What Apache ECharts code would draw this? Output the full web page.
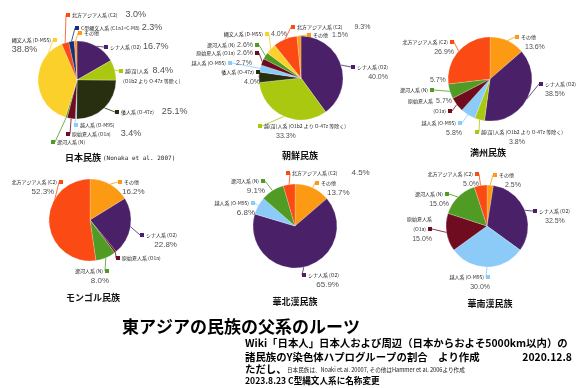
<!DOCTYPE html>
<html><head><meta charset="utf-8">
<script src="https://cdn.jsdelivr.net/npm/echarts@6/dist/echarts.min.js"></script>
<style>html,body{margin:0;padding:0;background:#fff}#c{width:586px;height:388px}</style>
</head><body><div id="c"></div>
<script>
// ---- haplogroup categories ----
const C2 = '北方アジア人系 (C2)';
const C1 = 'C型縄文人系 (C1a1=C-M8)';
const OT = 'その他';
const O2 = 'シナ人系 (O2)';
const YM = '越(苗)人系 (O1b2 より O-47z 等除く)';
const WA = '倭人系 (O-47z)';
const M95 = '越人系 (O-M95)';
const O1A = '原始夏人系 (O1a)';
const NN = '遼河人系 (N)';
const DM = '縄文人系 (D-M55)';
const categoryList = [C2, C1, OT, O2, YM, WA, M95, O1A, NN, DM];
const categoryColors = ['#fb4a14', '#15307e', '#fd9a14', '#4a2169', '#aac80f', '#282f10', '#8ccbf7', '#6f0c1f', '#4f9b23', '#fcd02b'];

// ---- data (clockwise from 12 o'clock) ----
const japanNames = [O2, YM, WA, M95, O1A, NN, DM, C2, C1, OT];
const japanValues = [16.7, 8.4, 25.1, 0.5, 3.4, 0.7, 38.8, 3.0, 2.3, 1.1];
const koreaNames = [O2, YM, WA, M95, O1A, NN, DM, C2, OT];
const koreaValues = [40.0, 33.3, 4.0, 2.7, 2.6, 2.6, 4.0, 9.3, 1.5];
const manchuNames = [OT, O2, YM, M95, O1A, NN, C2];
const manchuValues = [13.6, 38.5, 3.8, 5.8, 5.7, 5.7, 26.9];
const mongolNames = [OT, O2, O1A, NN, C2];
const mongolValues = [16.2, 22.8, 0.7, 8.0, 52.3];
const northHanNames = [OT, O2, M95, NN, C2];
const northHanValues = [13.7, 65.9, 6.8, 9.1, 4.5];
const southHanNames = [OT, O2, M95, O1A, NN, C2];
const southHanValues = [2.5, 32.5, 30.0, 15.0, 15.0, 5.0];

// ---- label placement (marker position + token template), layout only ----
const japanLabels = [[106,47,'M N s2 V'],[121,71,'M A s4 V|s4 B'],[117,112,'M N s8 V'],[76,125,'M N'],[68,134,'M N s10 V'],[53,142,'M N'],[55,40,'N M|V'],[68,15,'M N s8 V'],[77,28,'M N s2 V'],[80,33,'M N']];
const koreaLabels = [[353,67,'M N|>V'],[260,126,'M N|s18 V'],[258,72,'N M|>V'],[230,63,'N M s4 V'],[257,53,'N s2 V M'],[257,45,'N s2 V M'],[267,34,'N M s2 V'],[293,27,'M N s12 V'],[309,35,'M N s4 V']];
const manchuLabels = [[517,37,'M N|s10 V'],[541,84,'M N|s6 V'],[477,132,'M N|s34 V'],[460,123,'N M|>V'],[450,111,'A s3 V|>B >M'],[432,90,'s30 V|N M'],[452,42,'N M|>V']];
const mongolLabels = [[120,182,'M N|s4 V'],[142,235,'M N|>V'],[118,258,'M N'],[107,271,'N M|>V'],[61,182,'N M|s20 V']];
const northHanLabels = [[317,183,'M N|s12 V'],[304,275,'M N|>V'],[253,203,'N M|>V'],[263,181,'N M|>V'],[288,173,'M N s14 V']];
const southHanLabels = [[495,175,'M N|s12 V'],[535,211,'M N|s12 V'],[488,277,'N M|>V'],[430,229,'>A|>B >M|>V'],[447,194,'N M|>V'],[477,174,'N M|>V']];

const charts = [
  {title:'日本民族', names:japanNames, values:japanValues, labels:japanLabels, center:[77,80], r:39, vs:9, tx:65, ty:158, ta:'left'},
  {title:'朝鮮民族', names:koreaNames, values:koreaValues, labels:koreaLabels, center:[301,78], r:42, vs:7, tx:300, ty:156, ta:'center'},
  {title:'満州民族', names:manchuNames, values:manchuValues, labels:manchuLabels, center:[490,79], r:42, vs:7, tx:488, ty:153, ta:'center'},
  {title:'モンゴル民族', names:mongolNames, values:mongolValues, labels:mongolLabels, center:[90,220], r:41, vs:8, tx:93, ty:298, ta:'center'},
  {title:'華北漢民族', names:northHanNames, values:northHanValues, labels:northHanLabels, center:[295,226], r:42, vs:8, tx:295, ty:302, ta:'center'},
  {title:'華南漢民族', names:southHanNames, values:southHanValues, labels:southHanLabels, center:[487,226], r:41, vs:7, tx:490, ty:304, ta:'center'}
];

const NAME_FAMILY = 'Noto Sans CJK JP';
const VALUE_FAMILY = 'Liberation Sans';
const NAME_SIZE = 5;
const LH = 10, GAP = 2, MK = 4;
const mctx = document.createElement('canvas').getContext('2d');
function tw(text, size, family) { mctx.font = size + 'px ' + family; return mctx.measureText(text).width; }

function makeRich(vs) {
  const rich = {};
  ['L','R'].forEach(al => {
    const align = al === 'L' ? 'left' : 'right';
    rich['n'+al] = {fontSize: NAME_SIZE, fontFamily: NAME_FAMILY, color: '#1e1e1e', lineHeight: LH, align};
    rich['v'+al] = {fontSize: vs, fontFamily: VALUE_FAMILY, color: '#505050', lineHeight: LH, align};
    rich['g'+al] = {width: GAP, lineHeight: LH, align};
    for (let w = 1; w <= 40; w++) rich['sp'+w+al] = {width: w, lineHeight: LH, align};
    categoryList.forEach((c, i) => { rich['mk'+i+al] = {width: MK, height: MK, backgroundColor: categoryColors[i], lineHeight: LH, align}; });
  });
  return rich;
}

function buildLabel(ch, idx) {
  const name = ch.names[idx], value = ch.values[idx];
  const [mx, my, tpl] = ch.labels[idx];
  const sp = name.indexOf(' (');
  const partA = sp >= 0 ? name.slice(0, sp) : name;
  const partB = sp >= 0 ? name.slice(sp + 1) : '';
  const ci = categoryList.indexOf(name);
  const lines = tpl.split('|').map(line => {
    const toks = [];
    line.split(' ').filter(Boolean).forEach(code => {
      const right = code[0] === '>';
      const c = right ? code.slice(1) : code;
      const al = right ? 'R' : 'L';
      let tok;
      if (c === 'M') tok = {style:'mk'+ci+al, text:'', w:MK, isM:true, right};
      else if (c[0] === 's') tok = {style:'sp'+c.slice(1)+al, text:'', w:+c.slice(1), spacer:true, right};
      else if (c === 'V') { const t = value.toFixed(1) + '%'; tok = {style:'v'+al, text:t, w:tw(t, ch.vs, VALUE_FAMILY), right}; }
      else { const t = c === 'N' ? name : (c === 'A' ? partA : partB); tok = {style:'n'+al, text:t, w:tw(t, NAME_SIZE, NAME_FAMILY), right}; }
      if (toks.length && !tok.spacer && !toks[toks.length-1].spacer) toks.push({style:'g'+al, text:'', w:GAP, spacer:true, right});
      toks.push(tok);
    });
    return toks;
  });
  const W = Math.max(...lines.map(l => l.reduce((s, t) => s + t.w, 0)));
  const li = lines.findIndex(l => l.some(t => t.isM));
  const line = lines[li];
  const mi = line.findIndex(t => t.isM);
  let off;
  if (!line[mi].right) off = line.slice(0, mi).filter(t => !t.right).reduce((s, t) => s + t.w, 0) + MK / 2;
  else off = W - line.slice(mi + 1).filter(t => t.right).reduce((s, t) => s + t.w, 0) - MK / 2;
  const text = lines.map(l => l.map(t => '{' + t.style + '|' + t.text + '}').join('')).join('\n');
  return {text, left: mx - off, top: my - li * LH - LH / 2, mx, my};
}

const built = charts.map(ch => ch.names.map((n, i) => buildLabel(ch, i)));

const series = charts.map((ch, si) => ({
  type: 'pie',
  center: ch.center,
  radius: ch.r,
  startAngle: 90,
  clockwise: true,
  animation: false,
  avoidLabelOverlap: false,
  silent: true,
  data: ch.names.map((n, i) => ({name: n, value: ch.values[i], itemStyle: {color: categoryColors[categoryList.indexOf(n)]}})),
  itemStyle: {borderColor: 'rgba(255,255,255,0.55)', borderWidth: 0.4},
  label: {
    show: true, position: 'outside', overflow: 'none', fontSize: 5, lineHeight: LH,
    formatter: p => built[si][p.dataIndex].text,
    rich: makeRich(ch.vs)
  },
  labelLine: {show: true, length: 4, length2: 4, lineStyle: {width: 0.8}},
  labelLayout: p => {
    const b = built[si][p.dataIndex];
    const s = p.labelLinePoints && p.labelLinePoints[0];
    const res = {x: b.left, y: b.top, align: 'left', verticalAlign: 'top'};
    if (s) {
      const ex = s[0] < b.mx ? b.mx - MK / 2 : b.mx + MK / 2;
      res.labelLinePoints = [s, [ex, b.my]];
    }
    return res;
  }
}));

const TITLE_FAMILY = 'Noto Sans CJK JP';
const NOTE_SIZE = 10.4;
const graphics = charts.map(ch => ({
  type: 'text', x: ch.tx, y: ch.ty,
  style: {text: ch.title, fontSize: 9, fontWeight: 'bold', fontFamily: TITLE_FAMILY, fill: '#111', align: ch.ta, verticalAlign: 'middle'}
}));
graphics.push(
  {type:'text', x:103, y:158, style:{text:'(Nonaka et al. 2007)', fontSize:6, fontFamily:'DejaVu Sans Mono', fill:'#222', verticalAlign:'middle'}},
  {type:'text', x:122, y:327, style:{text:'東アジアの民族の父系のルーツ', fontSize:17, fontWeight:'bold', fontFamily:TITLE_FAMILY, fill:'#000', verticalAlign:'middle'}},
  {type:'text', x:245, y:343, style:{text:'Wiki「日本人」日本人および周辺（日本からおよそ5000km以内）の', fontSize:NOTE_SIZE, fontWeight:'bold', fontFamily:TITLE_FAMILY, fill:'#000', verticalAlign:'middle'}},
  {type:'text', x:245, y:357, style:{text:'諸民族のY染色体ハプログループの割合　より作成', fontSize:NOTE_SIZE, fontWeight:'bold', fontFamily:TITLE_FAMILY, fill:'#000', verticalAlign:'middle'}},
  {type:'text', x:572, y:357, style:{text:'2020.12.8', fontSize:NOTE_SIZE, fontWeight:'bold', fontFamily:TITLE_FAMILY, fill:'#000', align:'right', verticalAlign:'middle'}},
  {type:'text', x:245, y:369, style:{text:'ただし、', fontSize:NOTE_SIZE, fontWeight:'bold', fontFamily:TITLE_FAMILY, fill:'#000', verticalAlign:'middle'}},
  {type:'text', x:287, y:370, style:{text:'日本民族は、Noaki et.al. 20007, その他はHammer et al. 2006より作成', fontSize:5.6, fontFamily:TITLE_FAMILY, fill:'#222', verticalAlign:'middle'}},
  {type:'text', x:245, y:381, style:{text:'2023.8.23 C型縄文人系に名称変更', fontSize:8.6, fontWeight:'bold', fontFamily:TITLE_FAMILY, fill:'#000', verticalAlign:'middle'}}
);

const chart = echarts.init(document.getElementById('c'), null, {renderer: 'canvas'});
chart.setOption({
  backgroundColor: '#fff',
  animation: false,
  series,
  graphic: {elements: graphics}
});
</script>
</body></html>
